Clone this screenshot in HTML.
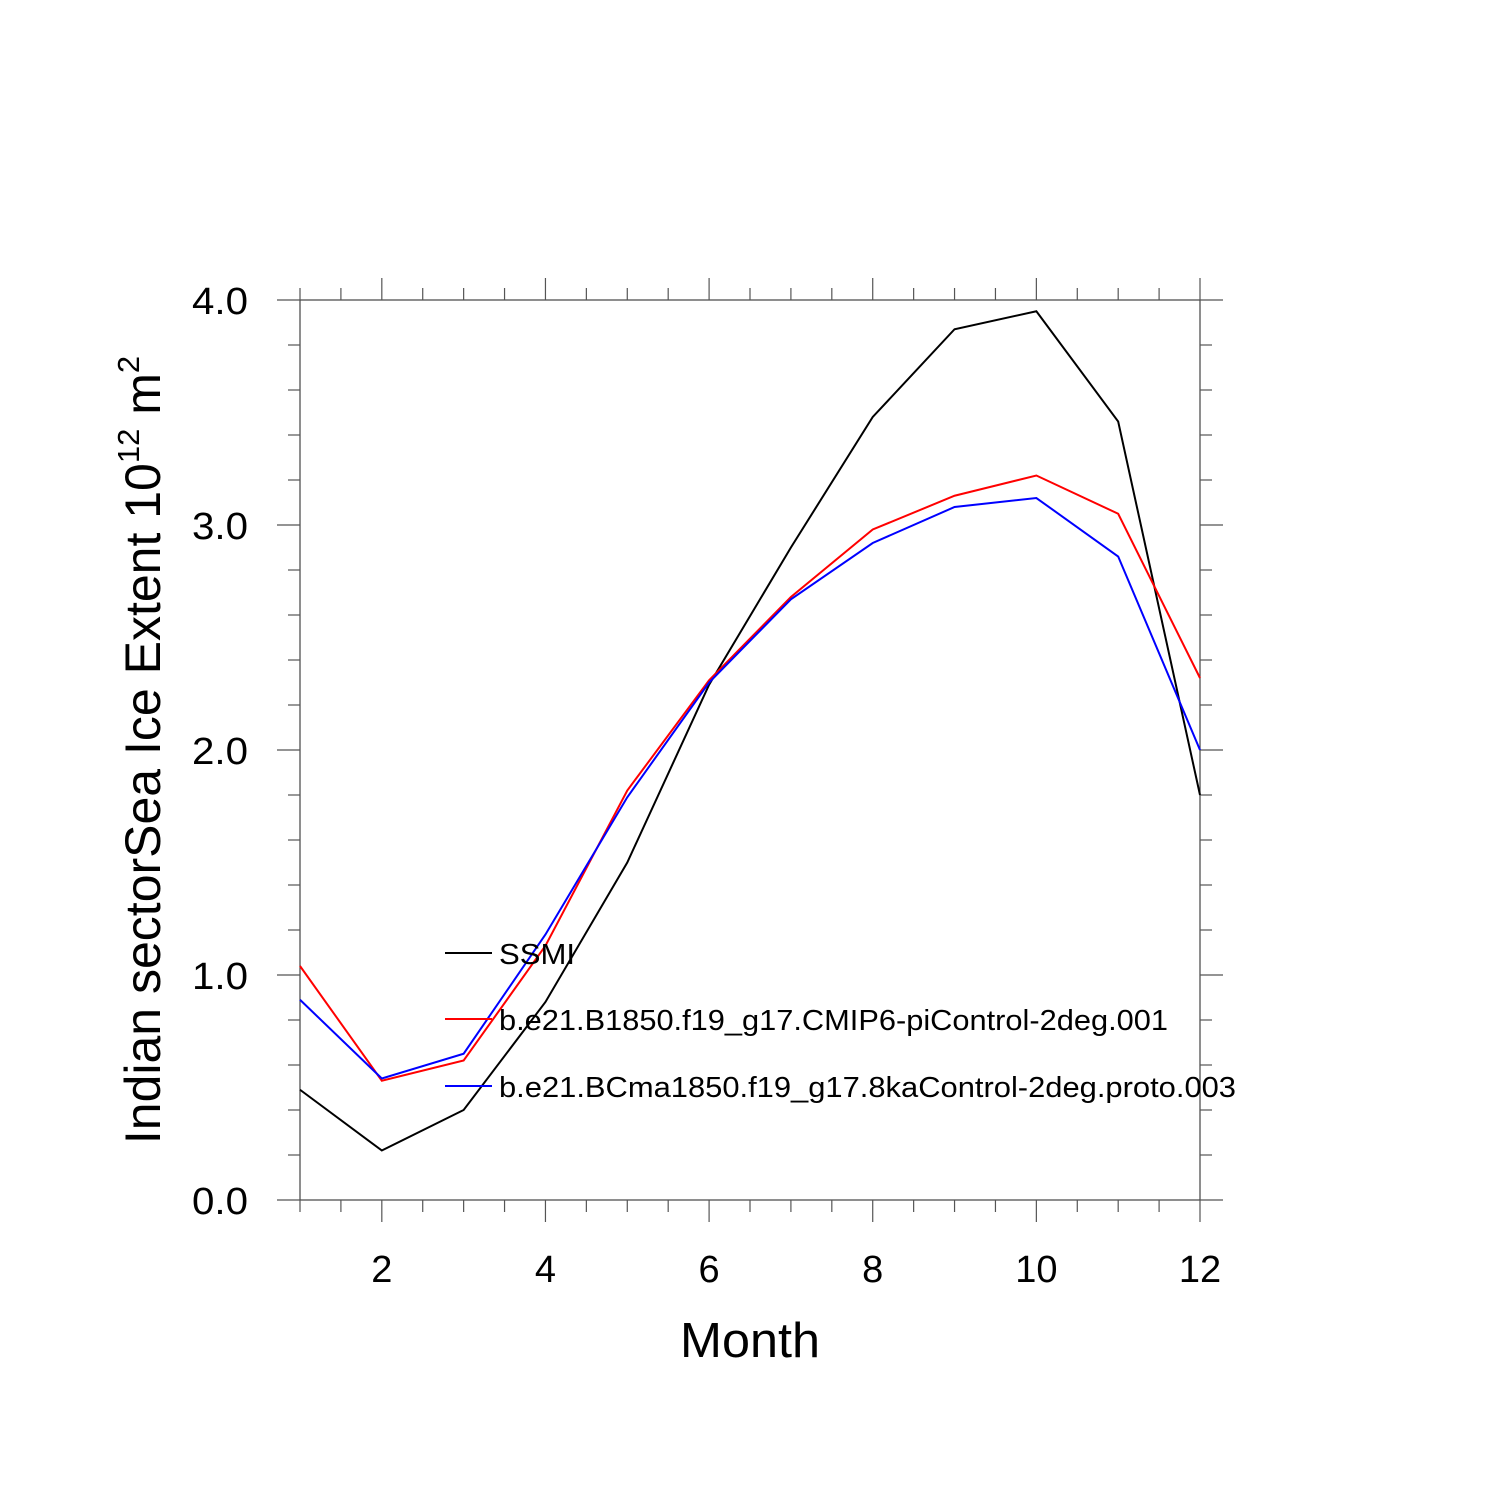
<!DOCTYPE html>
<html><head><meta charset="utf-8"><style>body{margin:0;background:#fff}svg{display:block}</style></head>
<body>
<svg id="c" width="1500" height="1500" xmlns="http://www.w3.org/2000/svg" font-family="Liberation Sans, sans-serif"></svg>
<script>
const months=[1,2,3,4,5,6,7,8,9,10,11,12];
const ssmi=[0.49,0.22,0.40,0.88,1.50,2.29,2.90,3.48,3.87,3.95,3.46,1.80];
const red=[1.04,0.53,0.62,1.13,1.82,2.31,2.68,2.98,3.13,3.22,3.05,2.32];
const blue=[0.89,0.54,0.65,1.18,1.79,2.30,2.67,2.92,3.08,3.12,2.86,2.00];
const xTicks=[2,4,6,8,10,12];
const yTicks=[0,1,2,3,4];
const yLabels=["0.0","1.0","2.0","3.0","4.0"];
const seriesNames=["SSMI","b.e21.B1850.f19_g17.CMIP6-piControl-2deg.001","b.e21.BCma1850.f19_g17.8kaControl-2deg.proto.003"];
const nameLens=[76,669,737];
const NS="http://www.w3.org/2000/svg";
const svg=document.getElementById('c');
const X=m=>300+(m-1)*900/11, Y=v=>1200-v*225;
function el(t,a,txt){const e=document.createElementNS(NS,t);for(const k in a)e.setAttribute(k,a[k]);if(txt!==undefined)e.textContent=txt;svg.appendChild(e);return e;}
let e=el('rect',{x:300,y:300,width:900,height:900,fill:'none',stroke:'#444','stroke-width':1.2});


for(let m=1;m<=12.001;m+=0.5){const maj=xTicks.includes(m);const L=maj?22:12;
 el('line',{x1:X(m),y1:300,x2:X(m),y2:300-L,stroke:'#555','stroke-width':1.2});
 el('line',{x1:X(m),y1:1200,x2:X(m),y2:1200+L,stroke:'#555','stroke-width':1.2});}
for(let v=0;v<=4.001;v+=0.2){const maj=Math.abs(v-Math.round(v))<1e-6;const L=maj?23:12;
 el('line',{x1:300,y1:Y(v),x2:300-L,y2:Y(v),stroke:'#555','stroke-width':1.2});
 el('line',{x1:1200,y1:Y(v),x2:1200+L,y2:Y(v),stroke:'#555','stroke-width':1.2});}
xTicks.forEach(m=>{e=el('text',{x:X(m),y:1282,'font-size':38,'text-anchor':'middle'},m);
 
 });
yTicks.forEach((v,i)=>{e=el('text',{x:248,y:Y(v)+14,'font-size':38,'text-anchor':'end',textLength:56,lengthAdjust:'spacingAndGlyphs'},yLabels[i]);
 
 });
e=el('text',{x:750,y:1357,'font-size':49,'text-anchor':'middle',textLength:140,lengthAdjust:'spacingAndGlyphs'},'Month');


e=el('text',{transform:'translate(160,750) rotate(-90)','font-size':50,'text-anchor':'middle'});


e.innerHTML='Indian sectorSea Ice Extent 10<tspan dy="-21" font-size="31">12</tspan><tspan dy="21"> m</tspan><tspan dy="-21" font-size="31">2</tspan>';
const series=[[ssmi,'#000','ssmi-line'],[red,'#f00','piControl-line'],[blue,'#00f','8kaControl-line']];
series.forEach(([d,c,n])=>{e=el('polyline',{points:d.map((v,i)=>X(months[i])+','+Y(v)).join(' '),fill:'none',stroke:c,'stroke-width':2});
 
 });
const ly=[953,1019,1086];
series.forEach(([d,c,n],i)=>{el('line',{x1:445,y1:ly[i],x2:492,y2:ly[i],stroke:c,'stroke-width':2});
 e=el('text',{x:499,y:ly[i]+11,'font-size':29,textLength:nameLens[i],lengthAdjust:'spacingAndGlyphs'},seriesNames[i]);
 
 });
</script>
</body></html>
